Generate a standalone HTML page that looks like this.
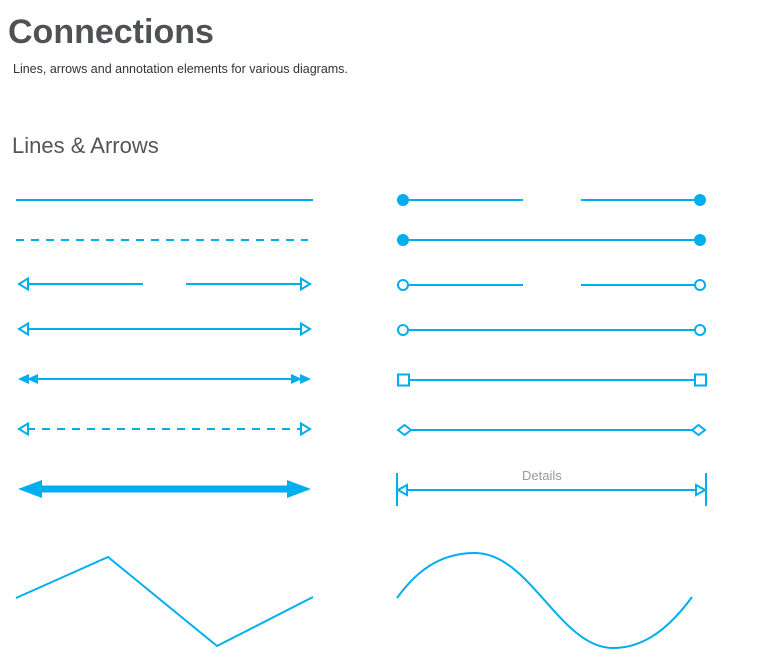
<!DOCTYPE html>
<html><head><style>
body{margin:0;width:767px;height:658px;background:#fff;font-family:"Liberation Sans",sans-serif;overflow:hidden;position:relative}
.t{position:absolute;white-space:nowrap}
</style></head><body>
<div class="t" style="left:8px;top:13px;font-size:34px;font-weight:bold;color:#4f5254">Connections</div>
<div class="t" style="left:13px;top:62px;font-size:12.5px;color:#333">Lines, arrows and annotation elements for various diagrams.</div>
<div class="t" style="left:12px;top:133px;font-size:22px;color:#555">Lines &amp; Arrows</div>
<svg width="767" height="658" style="position:absolute;left:0;top:0" fill="none" stroke="#00aeef" stroke-width="2">
<line x1="16" y1="200" x2="313" y2="200"/>
<line x1="16" y1="240" x2="308" y2="240" stroke-dasharray="8 7"/>
<line x1="27" y1="284" x2="143" y2="284"/><line x1="186" y1="284" x2="301" y2="284"/>
<polygon points="19,284 28,278.5 28,289.5" fill="#fff"/><polygon points="310,284 301,278.5 301,289.5" fill="#fff"/>
<line x1="27" y1="329" x2="301" y2="329"/>
<polygon points="19,329 28,323.5 28,334.5" fill="#fff"/><polygon points="310,329 301,323.5 301,334.5" fill="#fff"/>
<line x1="28" y1="379" x2="301" y2="379"/>
<g fill="#00aeef" stroke="none"><polygon points="18,379 29,374 29,384"/><polygon points="27,379 38,374 38,384"/><polygon points="311,379 300,374 300,384"/><polygon points="302,379 291,374 291,384"/></g>
<line x1="27" y1="429" x2="301" y2="429" stroke-dasharray="8 7"/>
<polygon points="19,429 28,423.5 28,434.5" fill="#fff"/><polygon points="310,429 301,423.5 301,434.5" fill="#fff"/>
<line x1="40" y1="489" x2="290" y2="489" stroke-width="7"/>
<g fill="#00aeef" stroke="none"><polygon points="18,489 42,480 42,498"/><polygon points="311,489 287,480 287,498"/></g>
<g fill="#00aeef" stroke="none"><circle cx="403" cy="200" r="6"/><circle cx="700" cy="200" r="6"/><circle cx="403" cy="240" r="6"/><circle cx="700" cy="240" r="6"/></g>
<line x1="403" y1="200" x2="523" y2="200"/><line x1="581" y1="200" x2="700" y2="200"/>
<line x1="403" y1="240" x2="700" y2="240"/>
<line x1="409" y1="285" x2="523" y2="285"/><line x1="581" y1="285" x2="694" y2="285"/>
<circle cx="403" cy="285" r="5" fill="#fff"/><circle cx="700" cy="285" r="5" fill="#fff"/>
<line x1="409" y1="330" x2="694" y2="330"/>
<circle cx="403" cy="330" r="5" fill="#fff"/><circle cx="700" cy="330" r="5" fill="#fff"/>
<line x1="409" y1="380" x2="695" y2="380"/>
<rect x="398" y="374.5" width="11" height="11" fill="#fff"/><rect x="695" y="374.5" width="11" height="11" fill="#fff"/>
<line x1="411" y1="430" x2="692" y2="430"/>
<polygon points="398,430 404.5,425 411,430 404.5,435" fill="#fff"/><polygon points="692,430 698.5,425 705,430 698.5,435" fill="#fff"/>
<line x1="397" y1="473" x2="397" y2="506"/><line x1="706" y1="473" x2="706" y2="506"/>
<line x1="406" y1="490" x2="697" y2="490"/>
<polygon points="398,490 407,485 407,495" fill="#fff"/><polygon points="705,490 696,485 696,495" fill="#fff"/>
<polyline points="16,598 108,557 217,646 313,597"/>
<path d="M397,598 C420,566 445,553 475,553 C530,553 560,648 613,648 C645,648 670,627 692,597"/>
</svg>
<div class="t" style="left:522px;top:468px;font-size:13px;color:#999">Details</div>
</body></html>
